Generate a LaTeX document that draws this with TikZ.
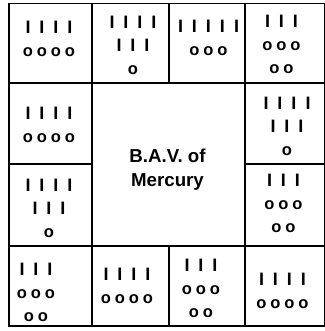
\documentclass[tikz,border=0pt]{standalone}
\usepackage{fontspec}
\setmainfont{Liberation Sans}
\newcommand{\bars}[1]{\foreach \k in {1,...,#1}{\makebox[14pt]{I}}}
\newcommand{\rings}[1]{{\fontsize{16.5}{23}\selectfont\foreach \k in {1,...,#1}{\makebox[14pt]{o}}}}
\tikzset{
  rule/.style={draw=black, line width=1.3pt},
  tally/.style={anchor=north, inner sep=0pt, align=center,
                font=\fontsize{18}{23}\selectfont\bfseries},
  hub/.style={anchor=north, inner sep=0pt, align=center,
              font=\fontsize{18.7}{24}\selectfont\bfseries},
}
\begin{document}
\begin{tikzpicture}[x=1pt, y=-1pt]
  \useasboundingbox (0,0) rectangle (324,331);
  % frame and cell walls
  \draw[rule] (9,3.5) rectangle (325,326);
  \draw[rule] (9,83) -- (325,83);
  \draw[rule] (9,246) -- (325,246);
  \draw[rule] (9,164) -- (92,164);
  \draw[rule] (245,164) -- (325,164);
  \draw[rule] (92,3.5) -- (92,326);
  \draw[rule] (245,3.5) -- (245,326);
  \draw[rule] (169,3.5) -- (169,83);
  \draw[rule] (169,246) -- (169,326);
  % centre
  \node[hub] (mercury) at (167.5,149) {B.A.V. of\\Mercury};
  % top row
  \node[tally] (c11) at (49,21) {\bars{4}\\\rings{4}};
  \node[tally] (c12) at (133,16) {\bars{4}\\\bars{3}\\\rings{1}};
  \node[tally] (c13) at (208.5,20) {\bars{5}\\\rings{3}};
  \node[tally] (c14) at (281.5,15) {\bars{3}\\\rings{3}\\\rings{2}};
  % side cells
  \node[tally] (c21) at (49,107) {\bars{4}\\\rings{4}};
  \node[tally] (c24) at (287,97) {\bars{4}\\\bars{3}\\\rings{1}};
  \node[tally] (c31) at (49,179) {\bars{4}\\\bars{3}\\\rings{1}};
  \node[tally] (c34) at (283.5,174) {\bars{3}\\\rings{3}\\\rings{2}};
  % bottom row
  \node[tally] (c41) at (36,263) {\bars{3}\\\rings{3}\\\rings{2}};
  \node[tally] (c42) at (127,268) {\bars{4}\\\rings{4}};
  \node[tally] (c43) at (201,259) {\bars{3}\\\rings{3}\\\rings{2}};
  \node[tally] (c44) at (282.5,273) {\bars{4}\\\rings{4}};
\end{tikzpicture}
\end{document}
